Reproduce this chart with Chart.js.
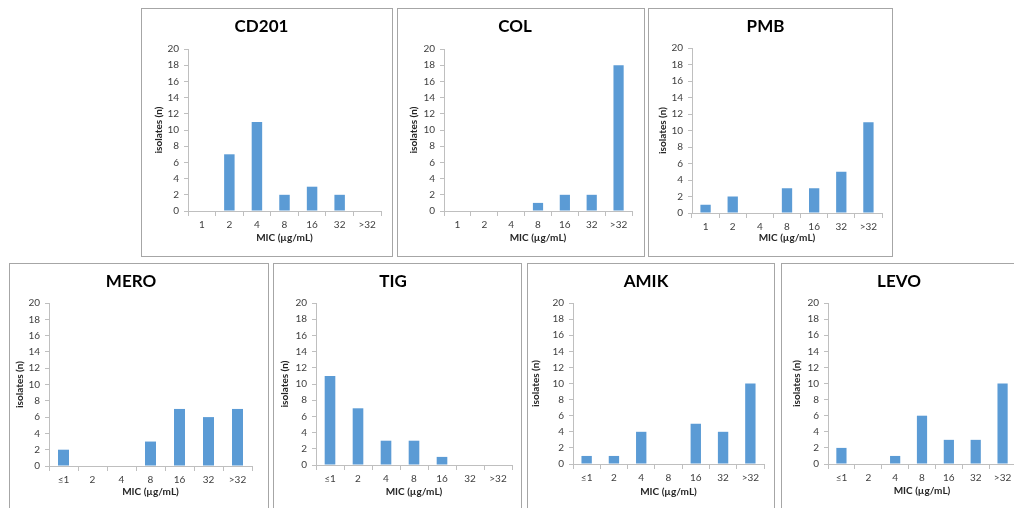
<!DOCTYPE html>
<html>
<head>
<meta charset="utf-8">
<script src="https://cdn.jsdelivr.net/npm/chart.js@4.4.0/dist/chart.umd.min.js"></script>
<style>
  body { margin: 0; width: 1014px; height: 508px; overflow: hidden; background: #fff; position: relative; }
  .box { position: absolute; border: 1px solid #a6a6a6; background: #fff; }
  .box canvas { display: block; }
</style>
</head>
<body>
<script>
// MIC categories
const micTop = ['1', '2', '4', '8', '16', '32', '>32'];
const micBottom = ['≤1', '2', '4', '8', '16', '32', '>32'];

// number of isolates per MIC
const cd201 = [0, 7, 11, 2, 3, 2, 0];
const col = [0, 0, 0, 1, 2, 2, 18];
const pmb = [1, 2, 0, 3, 3, 5, 11];
const mero = [2, 0, 0, 3, 7, 6, 7];
const tig = [11, 7, 3, 3, 1, 0, 0];
const amik = [1, 1, 4, 0, 5, 4, 10];
const levo = [2, 0, 1, 6, 3, 3, 10];

const yMax = 20;
const yStep = 2;

// box = frame [left, top, width, height], plot = axes [left, right, top, bottom] (page px)
const panels = [
  { name: 'CD201', labels: micTop, data: cd201, box: [141, 8, 252, 249], plot: [188, 381, 49, 211], titleY: 27, xTitleY: 238, yTitleX: 159 },
  { name: 'COL', labels: micTop, data: col, box: [397, 8, 248, 249], plot: [444, 632, 49, 211], titleY: 27, xTitleY: 238, yTitleX: 414 },
  { name: 'PMB', labels: micTop, data: pmb, box: [648, 8, 245, 249], plot: [692, 882, 48, 213], titleY: 27, xTitleY: 238, yTitleX: 663 },
  { name: 'MERO', labels: micBottom, data: mero, box: [9, 263, 260, 250], plot: [49, 252, 303, 466], titleY: 282, xTitleY: 492, yTitleX: 20 },
  { name: 'TIG', labels: micBottom, data: tig, box: [273, 263, 249, 250], plot: [316, 512, 303, 465], titleY: 282, xTitleY: 492, yTitleX: 285 },
  { name: 'AMIK', labels: micBottom, data: amik, box: [527, 263, 248, 250], plot: [573, 764, 303, 464], titleY: 282, xTitleY: 492, yTitleX: 536 },
  { name: 'LEVO', labels: micBottom, data: levo, box: [781, 263, 245, 250], plot: [828, 1016, 303, 464], titleY: 282, xTitleY: 491, yTitleX: 797 }
];

Chart.defaults.font.family = 'Lato, "Open Sans", sans-serif';
Chart.defaults.color = '#404040';

const titleSize = 17;
const tickSize = 10;
const axisTitleSize = 10;
const axisColor = '#bfbfbf';

panels.forEach(p => {
  const [bx, by, bw, bh] = p.box;
  const [pl, pr, pt, pb] = p.plot;
  const cx = bx + 1, cy = by + 1;
  const w = bw - 2, h = bh - 2;

  const div = document.createElement('div');
  div.className = 'box';
  div.style.left = bx + 'px';
  div.style.top = by + 'px';
  div.style.width = w + 'px';
  div.style.height = h + 'px';
  const canvas = document.createElement('canvas');
  canvas.width = w;
  canvas.height = h;
  div.appendChild(canvas);
  document.body.appendChild(div);

  const tLine = titleSize * 1.2;
  const tTop = (p.titleY - cy) - tLine / 2;
  const tBottom = (pt - cy) - tTop - tLine;
  const aLine = axisTitleSize * 1.2;

  new Chart(canvas.getContext('2d'), {
    type: 'bar',
    data: {
      labels: p.labels,
      datasets: [{
        data: p.data,
        backgroundColor: '#5B9BD5',
        borderWidth: 0,
        categoryPercentage: 1,
        barPercentage: 0.38
      }]
    },
    options: {
      responsive: false,
      animation: false,
      layout: { padding: { left: 0, top: 0, bottom: 0, right: w - (pr - cx) } },
      plugins: {
        legend: { display: false },
        tooltip: { enabled: false },
        title: {
          display: true,
          text: p.name,
          color: '#000',
          font: { size: titleSize, weight: 'bold' },
          padding: { top: tTop, bottom: tBottom }
        }
      },
      scales: {
        x: {
          offset: true,
          grid: { display: true, drawOnChartArea: false, drawTicks: true, tickLength: 5, color: axisColor, offset: true },
          border: { color: axisColor },
          ticks: { font: { size: tickSize }, padding: 3, maxRotation: 0, autoSkip: false },
          title: {
            display: true,
            text: 'MIC (µg/mL)',
            color: '#262626',
            font: { size: axisTitleSize, weight: 'bold' },
            padding: { top: 0, bottom: (cy + h) - p.xTitleY - aLine / 2 }
          },
          afterFit: s => { s.height = (cy + h) - pb; }
        },
        y: {
          min: 0,
          max: yMax,
          grid: { display: true, drawOnChartArea: false, drawTicks: true, tickLength: 4, color: axisColor },
          border: { color: axisColor },
          ticks: { stepSize: yStep, font: { size: tickSize }, padding: 5 },
          title: {
            display: true,
            text: 'isolates (n)',
            color: '#262626',
            font: { size: axisTitleSize, weight: 'bold' },
            padding: { top: p.yTitleX - cx - aLine / 2, bottom: 0 }
          },
          afterFit: s => { s.width = pl - cx; }
        }
      }
    }
  });
});
</script>
</body>
</html>
